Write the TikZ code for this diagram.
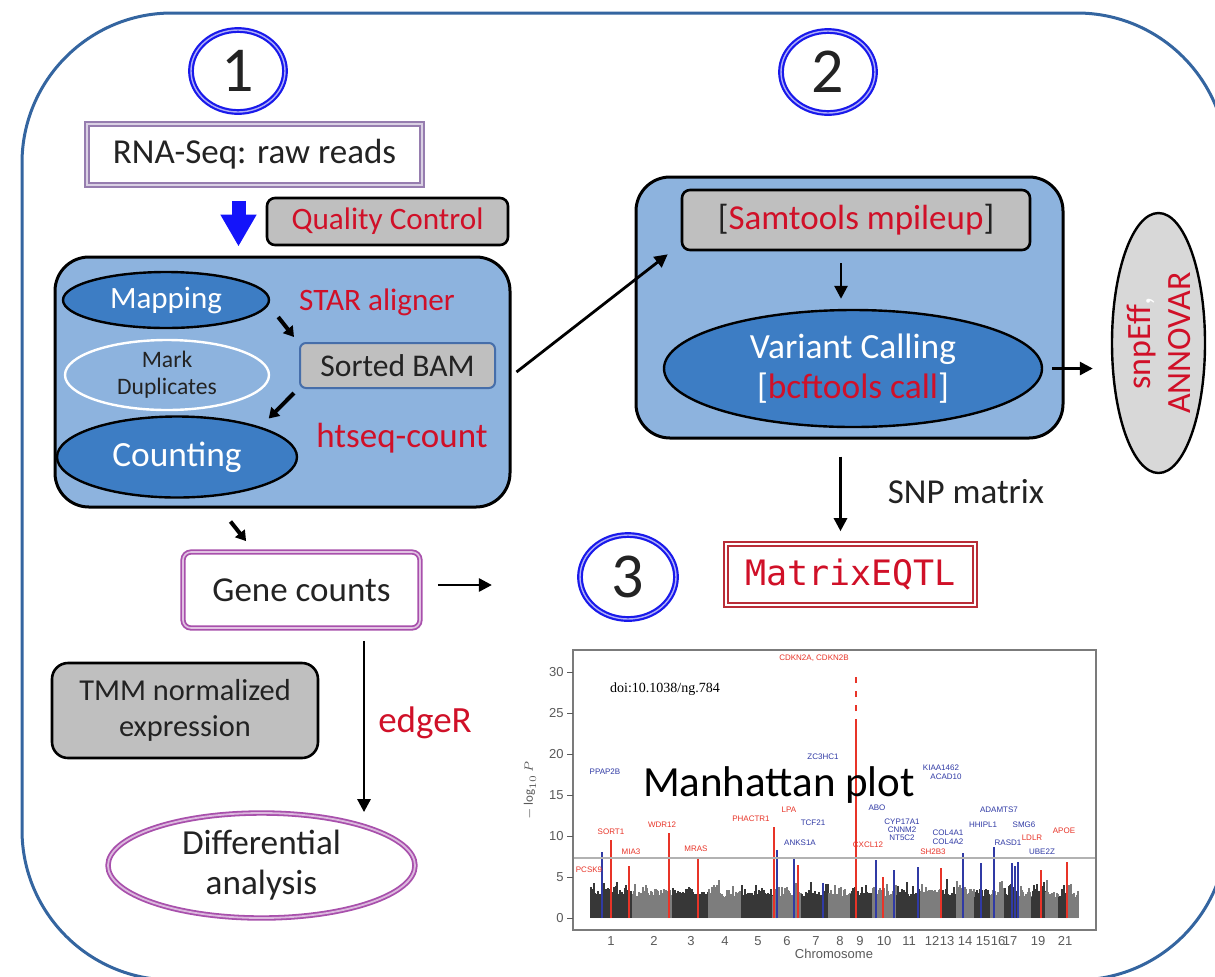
\documentclass[tikz,border=0pt]{standalone}
\usepackage{fontspec}
\setmainfont{Carlito}
\newfontfamily\monofont{DejaVu Sans Mono}
\newfontfamily\plotfont{Liberation Sans}
\newfontfamily\doifont{Liberation Serif}
\usetikzlibrary{arrows.meta,shapes.geometric}
\newcommand\setfs[2]{\fontsize{#1}{#2}\selectfont}
\definecolor{framecol}{RGB}{52,101,160}
\definecolor{lightblue}{RGB}{141,179,222}
\definecolor{midblue}{RGB}{61,125,196}
\definecolor{boxgray}{RGB}{191,191,191}
\definecolor{ovalgray}{RGB}{216,216,216}
\definecolor{toolred}{RGB}{208,16,40}
\definecolor{lavender}{RGB}{150,125,175}
\definecolor{magentap}{RGB}{168,80,172}
\definecolor{darkred}{RGB}{185,45,55}
\definecolor{ringblue}{RGB}{25,25,235}
\definecolor{arrowblue}{RGB}{20,20,250}
\definecolor{bamedge}{RGB}{70,110,170}
\definecolor{txt}{RGB}{35,35,35}
\definecolor{plotred}{RGB}{232,52,40}
\definecolor{plotblue}{RGB}{48,58,165}
\definecolor{axisgray}{RGB}{90,90,90}
\definecolor{gA}{RGB}{55,55,55}
\definecolor{gB}{RGB}{125,125,125}
\tikzset{
  every node/.style={text=txt, inner sep=0pt},
  body/.style={font=\setfs{17.5pt}{20pt}},
  tool/.style={text=toolred, font=\setfs{17.5pt}{20pt}},
  ring/.style={ellipse, draw=ringblue, line width=1.1pt, double=ringblue!35,
    double distance=0.7pt, minimum width=47pt, minimum height=41pt,
    font=\setfs{32pt}{34pt}},
  stage/.style={fill=lightblue, draw=black, line width=1.5pt, rounded corners=17pt},
  oval/.style={ellipse, fill=midblue, draw=black, line width=1.2pt, text=white},
  graybox/.style={fill=boxgray, draw=black, line width=1.3pt, rounded corners=4pt},
  arr/.style={-{Triangle[length=6.5pt,width=6.5pt]}, line width=1.4pt, black},
  sarr/.style={-{Triangle[length=5pt,width=6pt]}, line width=2pt, black},
  bigarr/.style={-{Triangle[length=16pt,width=17pt]}, line width=7pt, arrowblue},
  axislbl/.style={text=axisgray, font=\plotfont\setfs{6.5pt}{7pt}},
  gene/.style={font=\plotfont\setfs{4pt}{4.5pt}},
}
\begin{document}
\begin{tikzpicture}[x=0.5pt, y=-0.5pt]
\useasboundingbox (0,0) rectangle (1215,976);
\fill[white] (0,0) rectangle (1215,976);

% outer frame
\draw[framecol, line width=1.5pt, rounded corners=75pt] (22,13) rectangle (1227,980);

% ---------- stage 1 ----------
\node[ring] (c1) at (238,71) {1};
\node[body, draw=lavender, line width=0.9pt, double=lavender!35, double distance=0.9pt,
      minimum width=167.5pt, minimum height=30.5pt] (raw) at (254.5,154.5) {RNA-Seq: raw reads};
\node[graybox, text=toolred, font=\setfs{15.6pt}{18pt}, minimum width=120.5pt, minimum height=23.5pt]
      (qc) at (387.5,221.5) {Quality Control};

\node[stage, minimum width=227.5pt, minimum height=125pt] (box1) at (282.5,382) {};
\node[oval, font=\setfs{15.5pt}{18pt}, minimum width=103pt, minimum height=28pt] (map) at (166,300) {Mapping};
\node[ellipse, fill=lightblue, draw=white, line width=1.2pt, align=center,
      font=\setfs{11.8pt}{13.5pt}, minimum width=102pt, minimum height=35pt] (dup) at (167,375) {Mark\\Duplicates};
\node[oval, font=\setfs{17.7pt}{20pt}, minimum width=120pt, minimum height=40.5pt] (cnt) at (177,457) {Counting};
\node[text=toolred, font=\setfs{15.6pt}{18pt}] (star) at (377,302) {STAR aligner};
\node[fill=boxgray, draw=bamedge, line width=1pt, rounded corners=3pt, font=\setfs{15.8pt}{18pt},
      minimum width=97.5pt, minimum height=22.5pt] (bam) at (397.5,365.5) {Sorted BAM};
\node[tool] (hts) at (402,438) {htseq-count};

\draw[bigarr] ([xshift=-8pt,yshift=-7.5pt]raw.south) -- ([xshift=-8pt,yshift=4.5pt]raw.south |- box1.north);
\draw[sarr] ([shift={(8,17)}]map.east) -- ([shift={(-5,-5)}]bam.north west);
\draw[sarr] ([shift={(-5,4)}]bam.south west) -- ([shift={(6,-9)}]cnt.north east);

% ---------- stage 2 ----------
\node[ring] (c2) at (828,72) {2};
\node[stage, minimum width=213.5pt, minimum height=130.5pt] (box2) at (849.5,307.5) {};
\node[graybox, font=\setfs{17.5pt}{20pt}, minimum width=174pt, minimum height=30pt]
      (mpu) at (856,220) {[\textcolor{toolred}{Samtools mpileup}]};
\node[oval, align=center, font=\setfs{17.7pt}{20pt}, minimum width=189pt, minimum height=58.5pt]
      (var) at (853,368.5) {Variant Calling\\{}[\textcolor{toolred}{bcftools call}]};
\node[ellipse, fill=ovalgray, draw=black, line width=1.2pt, rotate=90, align=center,
      text=toolred, font=\setfs{17pt}{20pt}, minimum width=130pt, minimum height=46.5pt]
      (ann) at (1158.5,343) {snpEff\textcolor{white}{,}\\ANNOVAR};

\draw[arr] ([shift={(5,-10)}]box1.east) -- ([shift={(-13,3)}]mpu.south west);
\draw[arr] ([shift={(-15,12)}]mpu.south) -- ([shift={(-12,-10)}]var.north);
\draw[arr] ([xshift=4.5pt]var.east) -- ([xshift=-9pt]var.east -| ann.north);

% ---------- stage 3 ----------
\node[ring, minimum width=48pt, minimum height=42pt] (c3) at (628,577) {3};
\node[draw=darkred, line width=0.8pt, double=white, double distance=1.2pt,
      text=toolred, font=\monofont\setfs{17.5pt}{20pt}, minimum width=124.5pt, minimum height=30.5pt]
      (eqtl) at (850.5,574.5) {MatrixEQTL};
\node[body] (snp) at (966,492) {SNP matrix};
\draw[arr] ([shift={(-9,17)}]box2.south) -- ([shift={(-10,-12)}]eqtl.north);

% ---------- expression branch ----------
\node[body, draw=magentap, line width=0.9pt, double=magentap!35, double distance=0.8pt,
      rounded corners=4pt, minimum width=118.5pt, minimum height=38pt] (gc) at (301.5,590) {Gene counts};
\node[graybox, rounded corners=8pt, align=center, font=\setfs{15.2pt}{18pt},
      minimum width=133pt, minimum height=47.5pt] (tmm) at (185,710.5) {TMM normalized\\expression};
\node[ellipse, draw=magentap, line width=0.9pt, double=magentap!40, double distance=0.9pt,
      align=center, font=\setfs{17.6pt}{20pt}, minimum width=153.5pt, minimum height=52.5pt]
      (diff) at (261.5,865.5) {Differential\\analysis};
\node[text=toolred, font=\setfs{18.5pt}{20pt}] (edger) at (425,723) {edgeR};

\draw[sarr] ([shift={(-52,13)}]box1.south) -- ([shift={(64,-10)}]gc.north west);
\draw[arr] ([shift={(17,-5)}]gc.east) -- ([shift={(-87,-5)}]gc.east -| c3.west);
\draw[arr] ([shift={(62.5,12)}]gc.south) -- ([xshift=51.25pt]diff.north);

% ---------- Manhattan plot ----------
\node[fill=white, minimum width=261.5pt, minimum height=140pt] (mplot) at (834.5,790) {};
\pgfmathsetseed{4}
\foreach \a/\b/\c in {591/632/gA,633/672/gB,673/708/gA,709/741/gB,742/772/gA,773/801/gB,
    802/828/gA,829/850/gB,851/872/gA,873/896/gB,897/920/gA,921/940/gB,941/956/gA,957/974/gB,
    975/990/gA,991/1004/gB,1005/1017/gA,1018/1031/gB,1032/1045/gA,1046/1058/gB,1059/1068/gA,1069/1078/gB}{
  \foreach \x in {\a,...,\b}{
    \pgfmathsetmacro\hy{918-8.2*(2.4+2.0*rnd*rnd+0.5*rnd)}
    \draw[\c, line width=0.55pt] (\x,918) -- (\x,\hy);
  }
}
% association peaks
\foreach \x/\t/\c in {602/852/plotblue,611/840/plotred,629/866/plotred,669/833/plotred,698/857/plotred,
    774/827/plotred,777/850/plotblue,794/857/plotblue,798/865/plotred,823/883/plotblue,
    876/860/plotblue,883/877/plotred,894/870/plotblue,918/867/plotblue,941/868/plotred,
    963/853/plotblue,981/863/plotblue,994/847/plotblue,1012/863/plotblue,1015/866/plotblue,
    1018/862/plotblue,1041/870/plotred,1067/862/plotred}{
  \draw[\c, line width=1.3pt] (\x,918) -- (\x,\t);
}
\draw[plotred, line width=1.4pt] (856,918) -- (856,725);
\draw[plotred, line width=1.4pt, dash pattern=on 3pt off 4pt] (856,725) -- (856,670);
% genome-wide threshold
\draw[gray!60, line width=0.6pt] (573,858) -- (1096,858);
% gene labels
\foreach \g/\x/\y/\c in {PPAP2B/605/772/plotblue,SORT1/611/832/plotred,MIA3/631/852/plotred,
    PCSK9/589/870/plotred,WDR12/662/825/plotred,MRAS/696/849/plotred,PHACTR1/751/819/plotred,
    LPA/789/810/plotred,TCF21/813/823/plotblue,ANKS1A/800/843/plotblue,ZC3HC1/823/757/plotblue,
    {CDKN2A, CDKN2B}/814/658/plotred,ABO/877/808/plotblue,CXCL12/868/845/plotred,
    CYP17A1/902/822/plotblue,CNNM2/902/830/plotblue,NT5C2/902/838/plotblue,
    KIAA1462/941/768/plotblue,ACAD10/946/777/plotblue,SH2B3/933/852/plotred,
    COL4A1/948/833/plotblue,COL4A2/948/842/plotblue,ADAMTS7/999/810/plotblue,
    HHIPL1/983/825/plotblue,SMG6/1024/825/plotblue,RASD1/1008/843/plotblue,
    UBE2Z/1042/852/plotblue,LDLR/1032/838/plotred,APOE/1064/831/plotred}{
  \node[gene, text=\c] at (\x,\y) {\g};
}
\draw[axisgray!80, line width=0.9pt] (573,650) rectangle (1096,930);
\foreach \v in {0,5,...,30}{
  \draw[axisgray, line width=0.5pt] (567,918-8.2*\v) -- (573,918-8.2*\v);
  \node[axislbl, anchor=east] at (564,918-8.2*\v) {\v};
}
\foreach \n/\x in {1/611,2/654,3/691,4/725,5/758,6/787,7/816,8/840,9/860,10/884,11/909,
    12/932,13/947,14/965,15/983,16/998,17/1010,19/1038,21/1065}{
  \node[axislbl] at (\x,941) {\n};
}
\node[axislbl] (chrom) at (834,954) {Chromosome};
\node[axislbl, rotate=90] (ylab) at (530,790) {$-\log_{10} P$};
\node[font=\doifont\setfs{7pt}{8pt}, text=black] (doi) at (665,689) {doi:10.1038/ng.784};
\node[text=black, font=\setfs{21.5pt}{24pt}] (mtitle) at (779,785) {Manhattan plot};
\end{tikzpicture}
\end{document}
